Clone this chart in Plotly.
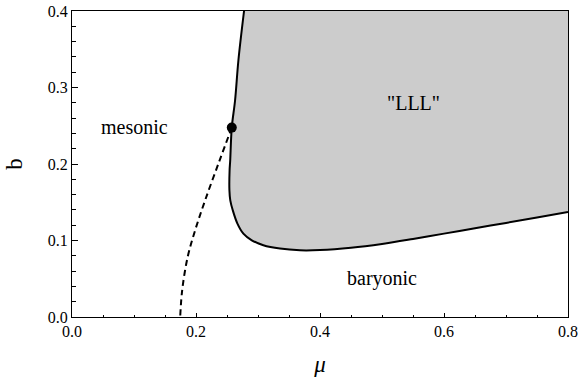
import plotly.graph_objects as go

# Axis limits
MU_MAX = 0.8
B_MAX = 0.4

# Solid phase boundary enclosing the "LLL" region (from top edge, down and round to the right edge)
mu_boundary = [0.2775, 0.2684, 0.2630, 0.2577, 0.2552, 0.2542, 0.2539, 0.2553, 0.2593,
               0.2668, 0.2764, 0.2900, 0.3086, 0.3355, 0.3677, 0.40, 0.45, 0.50,
               0.55, 0.60, 0.65, 0.70, 0.75, 0.80]
b_boundary = [0.400, 0.3356, 0.283, 0.2476, 0.205, 0.1918, 0.1656, 0.1525, 0.1395,
              0.1221, 0.1090, 0.1003, 0.0938, 0.0894, 0.0872, 0.0875, 0.0905, 0.0955,
              0.1020, 0.1090, 0.1160, 0.1230, 0.1300, 0.1373]

# Dashed mesonic/baryonic transition line, from the end point down to b = 0
mu_dashed = [0.2577, 0.2381, 0.2147, 0.1986, 0.1865, 0.1777, 0.1745]
b_dashed = [0.2476, 0.2048, 0.1525, 0.1133, 0.0782, 0.0349, 0.0]

# End point where the dashed line meets the solid boundary
mu_point = [0.2577]
b_point = [0.2476]

# Region labels
label_text = ["mesonic", "\"LLL\"", "baryonic"]
label_mu = [0.100, 0.550, 0.500]
label_b = [0.249, 0.280, 0.050]

SERIF = "Liberation Serif"

fig = go.Figure()

# Shaded region: boundary closed along the top-right corner of the plot
fig.add_trace(go.Scatter(
    x=mu_boundary + [MU_MAX, mu_boundary[0]],
    y=b_boundary + [B_MAX, B_MAX],
    mode="lines", fill="toself", fillcolor="#cccccc",
    line=dict(width=0), hoverinfo="skip", showlegend=False,
))

fig.add_trace(go.Scatter(
    x=mu_boundary, y=b_boundary, mode="lines",
    line=dict(color="black", width=2, shape="spline", smoothing=1),
    showlegend=False,
))

fig.add_trace(go.Scatter(
    x=mu_dashed, y=b_dashed, mode="lines",
    line=dict(color="black", width=2, dash="6px,4px", shape="spline", smoothing=1),
    showlegend=False,
))

fig.add_trace(go.Scatter(
    x=mu_point, y=b_point, mode="markers",
    marker=dict(color="black", size=10),
    showlegend=False,
))

for txt, mx, by in zip(label_text, label_mu, label_b):
    fig.add_annotation(x=mx, y=by, text=txt, showarrow=False,
                       font=dict(family=SERIF, size=20, color="black"),
                       xanchor="center", yanchor="middle")

axis_common = dict(
    showgrid=False, zeroline=False, showline=True, linecolor="black",
    linewidth=1, mirror=True, ticks="inside", tickcolor="black",
    tickfont=dict(family=SERIF, size=16, color="black"),
    tickformat=".1f", automargin=False,
)

fig.update_xaxes(
    range=[0, MU_MAX], dtick=0.2, tick0=0, ticklen=4,
    minor=dict(dtick=0.05, ticks="inside", ticklen=2.5, tickcolor="black"),
    title=dict(text="<i>μ</i>", font=dict(family=SERIF, size=23, color="black"),
               standoff=16),
    **axis_common,
)
fig.update_yaxes(
    range=[0, B_MAX], dtick=0.1, tick0=0, ticklen=6,
    minor=dict(dtick=0.02, ticks="inside", ticklen=4, tickcolor="black"),
    title=dict(text="b", font=dict(family=SERIF, size=23, color="black"),
               standoff=18),
    **axis_common,
)

fig.update_layout(
    width=583, height=381,
    margin=dict(l=72, r=15, t=11, b=64),
    plot_bgcolor="white", paper_bgcolor="white",
    font=dict(family=SERIF, color="black"),
)

fig.write_html("out.html")
